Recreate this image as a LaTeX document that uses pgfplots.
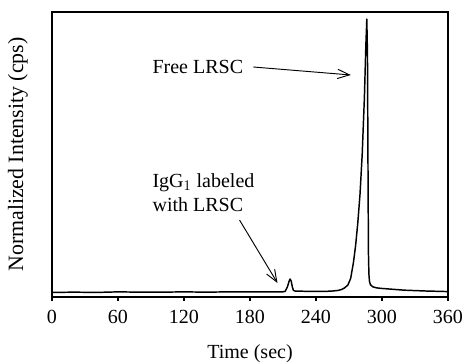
\documentclass[border=0pt]{standalone}
\usepackage{pgfplots}
\pgfplotsset{compat=1.18}
\usepackage{fontspec}
\setmainfont{Liberation Serif}
\usetikzlibrary{arrows.meta,calc}
\begin{document}
\fontsize{15}{18}\selectfont
\begin{tikzpicture}
\begin{axis}[
  scale only axis,
  width=297pt, height=213.75pt,
  xmin=0, xmax=360, ymin=0, ymax=100,
  xtick={0,60,120,180,240,300,360},
  ytick=\empty,
  xtick pos=bottom,
  tick align=outside,
  major tick length=3pt,
  axis line style={line width=1pt},
  every tick/.style={black, line width=0.8pt},
  /pgf/number format/assume math mode=true,
  ticklabel style={font=\fontsize{15}{18}\selectfont, yshift=-2pt},
  xlabel={Time (sec)},
  ylabel={Normalized Intensity (cps)},
  xlabel style={at={(axis description cs:0.5,-0.200)}, anchor=center},
  ylabel style={at={(axis description cs:-0.086,0.5)}, anchor=center, font=\fontsize{16.4}{19}\selectfont},
  clip=false,
]
\addplot[black, line width=1.1pt, line join=round] coordinates {
(0,1.6) (20,1.7) (40,1.6) (60,1.8) (80,1.7) (100,1.7) (120,1.8) (140,1.7)
(160,1.8) (180,1.8) (200,1.8) (210,1.8) (212,2.0) (214,3.5) (215.5,5.5)
(216.5,6.3) (217.5,5.5) (218.5,3.5) (219.5,2.3) (221,2.1) (230,2.0) (240,2.0)
(250,2.0) (255,2.1) (260,2.3) (263,2.6) (266,3.2) (269,4.2) (271.5,6.5)
(274,12) (276,18) (278,26) (280,36) (282,50) (284,70) (285.3,88) (286.2,97.5)
(286.8,85) (287.1,60) (287.4,35) (287.7,15) (288.1,8) (288.6,5.5) (289.5,4.3)
(291.5,3.6) (295,3.2) (300,3.0) (310,2.7) (320,2.4) (340,2.1) (360,1.9)
};
\node[anchor=east, inner sep=0pt] at (axis cs:174,80.7) {Free LRSC};
\draw[line width=0.7pt, -{Straight Barb[length=9pt,width=7pt,line width=0.7pt]}] (axis cs:183,80.7) -- (axis cs:271.6,77.9);
\node[anchor=north west, inner sep=0pt, align=left] at (axis cs:91.2,43.5) {IgG$_1$ labeled\\with LRSC};
\draw[line width=0.7pt, -{Straight Barb[length=9pt,width=7pt,line width=0.7pt]}] (axis cs:170.5,27) -- (axis cs:205,4.9);
\end{axis}
\pgfresetboundingbox
\path ($(current axis.south west)+(-39pt,-50.25pt)$) rectangle ($(current axis.north east)+(12.75pt,9pt)$);
\end{tikzpicture}
\end{document}
